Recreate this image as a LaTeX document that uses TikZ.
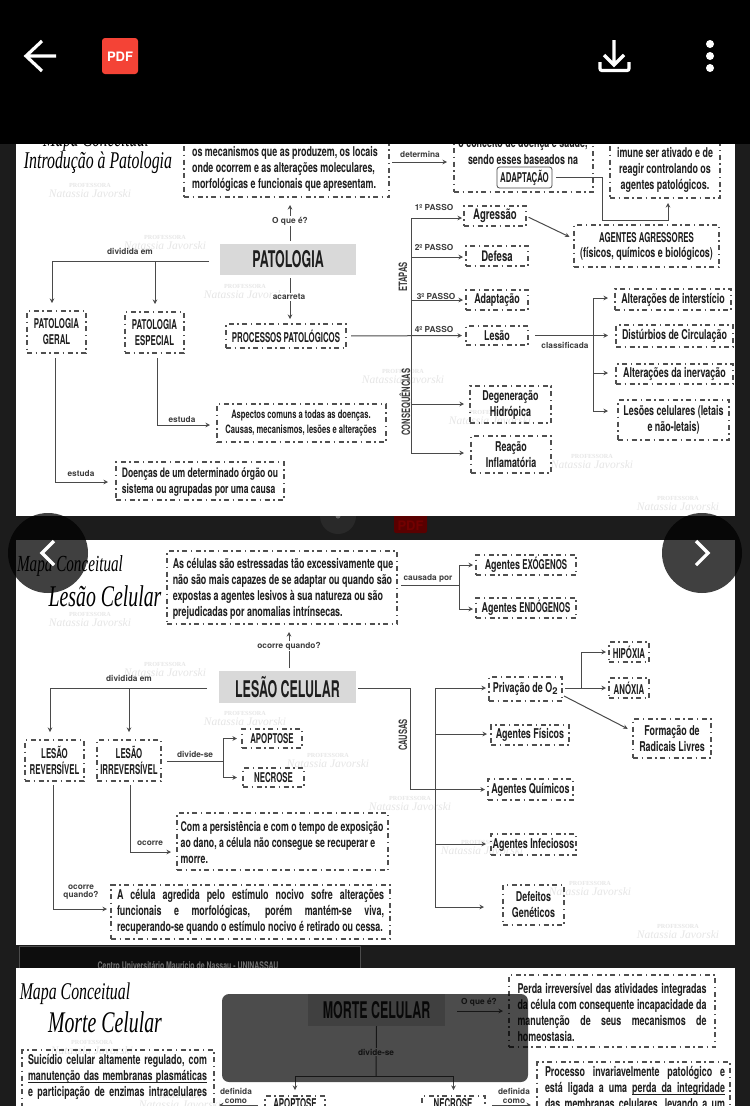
\documentclass[tikz,border=0pt]{standalone}
\usepackage{fontspec}
\usetikzlibrary{arrows.meta,calc}
\setmainfont{TeX Gyre Heros}
\newfontfamily\nar{TeX Gyre Heros}[FakeStretch=0.66]
\newfontfamily\nc{TeX Gyre Heros}[FakeStretch=0.58]
\newfontfamily\nn{TeX Gyre Heros}[FakeStretch=0.54]
\newfontfamily\scr{Liberation Serif}[FakeStretch=0.66]
\newfontfamily\wmf{Liberation Serif}
\definecolor{ink}{HTML}{1E1E1E}
\definecolor{lin}{HTML}{4A4A4A}
\definecolor{boxl}{HTML}{505050}
\definecolor{lab}{HTML}{3C3C3C}
\definecolor{mark}{HTML}{E6E6E6}
\definecolor{pdfred}{HTML}{F44336}
\tikzset{
 x=1pt,y=-1pt,
 dbox/.style={draw=boxl,line width=1.2pt,dash pattern=on 5pt off 3.5pt on 1.5pt off 3.5pt,inner sep=0pt,outer sep=0pt,align=center,text=ink,font=\nar\bfseries\fontsize{13.5}{16}\selectfont},
 body/.style={inner sep=0pt,outer sep=0pt,text=ink,font=\nar\bfseries\fontsize{13.5}{16}\selectfont},
 small/.style={body,font=\nar\bfseries\fontsize{11.5}{14.5}\selectfont},
 lbl/.style={inner sep=1pt,text=lab,font=\bfseries\fontsize{8.3}{8.6}\selectfont,align=center},
 lblw/.style={lbl,fill=white},
 lblv/.style={lbl,rotate=90,font=\nar\bfseries\fontsize{11.5}{12}\selectfont},
 head/.style={fill=black!15,inner sep=0pt,outer sep=0pt,text=ink,font=\nn\bfseries\fontsize{23}{24}\selectfont},
 cn/.style={draw=lin,line width=1pt},
 arr/.style={cn,-{Stealth[length=4.5pt,width=4.5pt]}},
 ttl/.style={inner sep=0pt,text=black,font=\scr\itshape\fontsize{24}{26}\selectfont},
 ttls/.style={inner sep=0pt,text=black,font=\scr\itshape\fontsize{23}{24}\selectfont},
}
\newcommand{\dbox}[6]{\node[dbox,minimum width={(#4-#2)*1pt},minimum height={(#5-#3)*1pt}] (#1) at ({(#2+#4)/2},{(#3+#5)/2}) {#6};}
\newcommand{\wm}[3]{\node[inner sep=0pt,text=mark,font=\wmf\bfseries\fontsize{6.2}{7}\selectfont] (#1p) at (#2,#3-4) {PROFESSORA};
 \node[inner sep=0pt,text=mark,font=\wmf\itshape\fontsize{11.5}{14}\selectfont] (#1n) at (#2,#3+5) {Natassia Javorski};}
\newcommand{\js}[2]{\makebox[#1pt][s]{#2}}
\newcommand{\ulr}[2]{\rlap{\hspace{#1pt}\rule[-2.4pt]{#2pt}{0.9pt}}}
\begin{document}
\begin{tikzpicture}
\useasboundingbox (0,0) rectangle (750,1106);
\clip (0,0) rectangle (750,1106);
\fill[black!89] (0,0) rectangle (750,1106);
% artefacts of the pages behind
\fill[black!84] (338,516) circle (18);
\fill[black!60] (338,516) circle (2.5);
\fill[red!35!black,rounded corners=2pt] (394,505) rectangle (427,533);
\node[inner sep=0pt,text=red!45!black,font=\bfseries\fontsize{13}{13}\selectfont] (bgpdf) at (410.5,526) {PDF};
\fill[black!95] (19,946) rectangle (360,968);
\draw[black!70,line width=0.8pt] (19,968) -- (19,946) -- (360,946) -- (360,968);
\node[inner sep=0pt,text=black!55,font=\nar\bfseries\fontsize{10.5}{10}\selectfont] (bgfoot) at (188,966) {Centro Universitário Maurício de Nassau - UNINASSAU};
% pages
\fill[white] (16,130) rectangle (735,516);
\fill[white] (16,540) rectangle (735,945);
\fill[white] (16,968) rectangle (735,1106);
% watermarks
\wm{wa}{90}{189}\wm{wb}{165}{241}\wm{wc}{245}{290}\wm{wd}{403}{375}\wm{we}{490}{416}\wm{wf}{592}{460}\wm{wg}{678}{502}
\wm{wh}{90}{618}\wm{wi}{165}{668}\wm{wj}{245}{717}\wm{wk}{328}{759}\wm{wl}{410}{802}\wm{wm}{482}{846}\wm{wn}{590}{887}\wm{wo}{678}{930}
\wm{wp}{92}{1046}\wm{wq}{180}{1100}
% ---------- panel 1
\node[ttls] (t1a) at (96,141) {Mapa Conceitual};
\node[ttl] (t1b) at (98,163) {Introdução à Patologia};
\dbox{defp}{184}{120}{389}{197}{}
\node[body,align=left] (defptxt) at (285,169) {os mecanismos que as produzem, os locais\\onde ocorrem e as alterações moleculares,\\morfológicas e funcionais que apresentam.};
\dbox{conc}{454}{120}{593}{192}{}
\node[body] (conca) at (523,144) {o conceito de doença e saúde,};
\node[body] (concb) at (523,160) {sendo esses baseados na};
\node[draw=lin,line width=0.8pt,rounded corners=2.5pt,inner sep=0pt,minimum width=55pt,minimum height=21pt,text=ink,font=\nc\bfseries\fontsize{13.5}{16}\selectfont] (adap) at (524.5,177.5) {ADAPTAÇÃO};
\dbox{imun}{610}{120}{720}{198}{}
\node[body,align=center] (imunt) at (665,170) {imune ser ativado e de\\reagir controlando os\\agentes patológicos.};
\node[head,minimum width=136pt,minimum height=31pt] (pat) at (288,259.5) {PATOLOGIA};
\dbox{agr}{574}{225}{719}{267}{{\nc AGENTES AGRESSORES}\\[-1pt](físicos, químicos e biológicos)}
\dbox{pag}{27}{311}{86}{353}{\nc PATOLOGIA\\\nc GERAL}
\dbox{pes}{125}{312}{184}{353}{\nc PATOLOGIA\\\nc ESPECIAL}
\dbox{proc}{226}{324}{346}{348}{\nc PROCESSOS PATOLÓGICOS}
\dbox{agre}{464}{206}{526}{226}{\fontsize{14.5}{16}\selectfont Agressão}
\dbox{defe}{466}{246}{528}{266}{\fontsize{14.5}{16}\selectfont Defesa}
\dbox{adpt}{466}{290}{528}{310}{Adaptação}
\dbox{lesa}{466}{326}{528}{345}{Lesão}
\dbox{dege}{470}{386}{551}{423}{Degeneração\\Hidrópica}
\dbox{reac}{471}{436}{551}{473}{Reação\\Inflamatória}
\dbox{alti}{615}{289}{731}{310}{Alterações de interstício}
\dbox{dist}{616}{325}{733}{347}{Distúrbios de Circulação}
\dbox{altn}{616}{364}{733}{384}{Alterações da inervação}
\dbox{lcel}{618}{400}{729}{440}{Lesões celulares (letais\\e não-letais)}
\dbox{doen}{116}{462}{284}{500}{}
\node[body,align=left,font=\nar\bfseries\fontsize{13}{16}\selectfont] (doent) at (200,482) {Doenças de um determinado órgão ou\\sistema ou agrupadas por uma causa};
\dbox{aspe}{217}{404}{386}{442}{}
\node[small,align=center] (aspet) at (301,423) {Aspectos comuns a todas as doenças.\\Causas, mecanismos, lesões e alterações};
% connectors panel 1
\coordinate (detj) at (392,162);
\draw[arr,shorten <=3pt,shorten >=7pt] (defp.east |- detj) -- (conc.west |- detj);
\node[lbl] (detm) at (420,154) {determina};
\coordinate (adj) at (602,220);
\coordinate (adk) at (668,220);
\draw[arr,shorten <=4pt,shorten >=5pt] (adap.east) -- (adj |- adap.east) -- (adj) -- (adk) -- (adk |- imun.south);
\draw[arr,shorten <=3pt,shorten >=5pt] (agre.east) -- ($(agr.west)+(0,-7)$);
\coordinate (qa) at (290,221);
\draw[arr,shorten <=3pt,shorten >=8pt] (pat.north -| qa) -- (qa |- defp.south);
\node[lblw] (oque1) at (qa) {O que é?};
\coordinate (dvj) at (209,261);
\coordinate (dva) at (52,261);
\coordinate (dvb) at (155,261);
\draw[cn] (dvj) -- (dva);
\draw[arr,shorten >=8pt] (dva) -- (dva |- pag.north);
\draw[arr,shorten >=8pt] (dvb) -- (dvb |- pes.north);
\node[lbl] (dvl) at (130,251) {dividida em};
\draw[arr,shorten <=3pt,shorten >=5pt] (pat.south -| qa) -- (qa |- proc.north);
\node[lblw] (acar) at (289,297) {acarreta};
\draw[arr,shorten <=5pt,shorten >=4pt] (proc.east) -- (lesa.west);
\coordinate (sa) at (411,218);
\coordinate (sb) at (411,453);
\draw[cn] (sa) -- (sb);
\draw[arr,shorten >=2pt] (sa) -- (sa -| agre.west);
\coordinate (sc) at (411,257);
\coordinate (sd) at (411,300);
\coordinate (se) at (411,404);
\draw[arr,shorten >=3pt] (sc) -- (sc -| defe.west);
\draw[arr,shorten >=3pt] (sd) -- (sd -| adpt.west);
\draw[arr,shorten >=6pt] (se) -- (se -| dege.west);
\draw[arr,shorten >=7pt] (sb) -- (sb -| reac.west);
\node[lbl] (p1) at (434,207) {1º PASSO};
\node[lbl] (p2) at (434,247) {2º PASSO};
\node[lbl] (p3) at (436,296) {3º PASSO};
\node[lbl] (p4) at (434,329) {4º PASSO};
\node[lblv] (etap) at (403,277) {ETAPAS};
\node[lblv] (cons) at (405,402) {CONSEQUÊNCIAS};
\coordinate (ca) at (593,298);
\coordinate (cb) at (593,411);
\coordinate (cc) at (593,373);
\draw[cn] (ca) -- (cb);
\draw[arr,shorten <=7pt,shorten >=8pt] (lesa.east) -- (lesa.east -| dist.west);
\draw[arr,shorten >=7pt] (ca) -- (ca -| alti.west);
\draw[arr,shorten >=8pt] (cc) -- (cc -| altn.west);
\draw[arr,shorten >=10pt] (cb) -- (cb -| lcel.west);
\node[lbl] (clas) at (565,345) {classificada};
\coordinate (ga) at (55,482);
\draw[arr,shorten <=5pt,shorten >=8pt] (ga |- pag.south) -- (ga) -- (doen.west |- ga);
\node[lbl] (est1) at (81,474) {estuda};
\coordinate (gb) at (157,425);
\draw[arr,shorten <=5pt,shorten >=7pt] (gb |- pes.south) -- (gb) -- (aspe.west |- gb);
\node[lbl] (est2) at (182,420) {estuda};
% ---------- panel 2
\node[ttls] (t2a) at (70,566) {Mapa Conceitual};
\node[ttl,font=\scr\itshape\fontsize{30}{32}\selectfont] (t2b) at (105,596) {Lesão Celular};
\dbox{cel}{167}{551}{397}{624}{}
\node[body,align=left] (celt) at (283,588.5) {As células são estressadas tão excessivamente que\\não são mais capazes de se adaptar ou quando são\\expostas a agentes lesivos à sua natureza ou são\\prejudicadas por anomalias intrínsecas.};
\dbox{exo}{476}{555}{576}{575}{Agentes {\nc EXÓGENOS}}
\dbox{endo}{476}{598}{576}{618}{Agentes {\nc ENDÓGENOS}}
\node[head,minimum width=137pt,minimum height=32pt] (les) at (287.5,687) {LESÃO CELULAR};
\dbox{priv}{489}{677}{562}{701}{Privação de O$_{\mathbf 2}$}
\dbox{fisi}{491}{725}{569}{745}{Agentes Físicos}
\dbox{quim}{488}{779}{573}{800}{Agentes Químicos}
\dbox{infe}{491}{834}{576}{855}{Agentes Infeciosos}
\dbox{defg}{503}{885}{564}{925}{Defeitos\\Genéticos}
\dbox{hipo}{609}{642}{649}{662}{\nc HIPÓXIA}
\dbox{anox}{609}{678}{649}{698}{\nc ANÓXIA}
\dbox{radi}{633}{719}{711}{758}{Formação de\\Radicais Livres}
\dbox{lrev}{25}{740}{84}{781}{\nc LESÃO\\\nc REVERSÍVEL}
\dbox{lirr}{97}{740}{161}{781}{\nc LESÃO\\\nc IRREVERSÍVEL}
\dbox{apop}{242}{729}{302}{748}{\nc APOPTOSE}
\dbox{necr}{243}{768}{304}{787}{\nc NECROSE}
\dbox{pers}{177}{813}{388}{870}{}
\node[body,align=left,font=\nar\bfseries\fontsize{13.3}{16}\selectfont] (perst) at (282,843) {Com a persistência e com o tempo de exposição\\ao dano, a célula não consegue se recuperar e\\morre.};
\dbox{agrd}{111}{885}{390}{939}{}
\node[body,align=left] (agrdt) at (250.5,912) {\js{267}{A célula agredida pelo estímulo nocivo sofre alterações}\\\js{267}{funcionais e morfológicas, porém mantém-se viva,}\\recuperando-se quando o estímulo nocivo é retirado ou cessa.};
% connectors panel 2
\coordinate (ea) at (401,585);
\coordinate (eb) at (459,585);
\draw[cn] (cel.east |- ea) ++(4,0) -- (eb);
\draw[arr,shorten >=3pt] (eb) |- (exo.west);
\coordinate (endoj) at (476,609);
\draw[arr,shorten >=3pt] (eb) |- (endoj);
\node[lbl] (caus) at (428,578) {causada por};
\coordinate (oqa) at (289,646);
\draw[arr,shorten <=3pt,shorten >=8pt] (les.north -| oqa) -- (oqa |- cel.south);
\node[lblw] (ocq) at (oqa) {ocorre quando?};
\coordinate (la) at (207,688);
\coordinate (lb) at (50,688);
\coordinate (lc) at (129,688);
\draw[cn] (la) -- (lb);
\draw[arr,shorten >=8pt] (lb) -- (lb |- lrev.north);
\draw[arr,shorten >=8pt] (lc) -- (lc |- lirr.north);
\node[lbl] (dvl2) at (129,678) {dividida em};
\coordinate (ma) at (410,688);
\draw[arr,shorten <=2pt,shorten >=3pt] (les.east |- ma) -- (ma) -- (ma |- quim.west) -- (quim.west);
\node[lblv] (caus2) at (403,735) {CAUSAS};
\coordinate (na) at (435,688);
\coordinate (nb) at (435,907);
\coordinate (nc) at (435,734);
\coordinate (nd) at (435,844);
\draw[cn] (na) -- (nb);
\draw[arr,shorten >=3pt] (na) -- (na -| priv.west);
\draw[arr,shorten >=4pt] (nc) -- (nc -| fisi.west);
\draw[arr,shorten >=5pt] (nd) -- (nd -| infe.west);
\draw[arr,shorten >=19pt] (nb) -- (nb -| defg.west);
\coordinate (oa) at (581,688);
\draw[arr,shorten <=3pt,shorten >=3pt] (priv.east |- oa) -- (anox.west |- oa);
\draw[arr,shorten >=3pt] (oa) |- (hipo.west);
\coordinate (ob) at (564,696);
\draw[arr,shorten >=6pt] (ob) -- ($(radi.west)+(0,-7)$);
\coordinate (pa) at (167,761);
\coordinate (pb) at (223,761);
\draw[cn] (pa) -- (pb);
\draw[arr,shorten >=5pt] (pb) |- (apop.west);
\draw[arr,shorten >=6pt] (pb) |- (necr.west);
\node[lbl] (dvs) at (195,754) {divide-se};
\coordinate (qaa) at (130,852);
\draw[arr,shorten <=4pt,shorten >=6pt] (qaa |- lirr.south) -- (qaa) -- (pers.west |- qaa);
\node[lbl] (oc1) at (150,843) {ocorre};
\coordinate (qab) at (53,909);
\draw[arr,shorten <=4pt,shorten >=4pt] (qab |- lrev.south) -- (qab) -- (agrd.west |- qab);
\node[lbl] (oc2) at (81,892) {ocorre\\quando?};
% ---------- panel 3
\node[ttl] (t3a) at (75,994) {Mapa Conceitual};
\node[ttl,font=\scr\itshape\fontsize{30}{32}\selectfont] (t3b) at (105,1022) {Morte Celular};
\dbox{suic}{22}{1050}{214}{1140}{}
\node[body,align=left,anchor=north west] (suict) at (28,1054) {\js{179}{Suicídio celular altamente regulado, com}\\\js{179}{\ulr{0}{179}manutenção das membranas plasmáticas}\\\js{179}{e participação de enzimas intracelulares}};
\dbox{perd}{509}{975}{715}{1047}{}
\node[body,align=left] (perdt) at (612,1012) {\js{189}{Perda irreversível das atividades integradas}\\\js{189}{da célula com consequente incapacidade da}\\\js{189}{manutenção de seus mecanismos de}\\homeostasia.};
\dbox{proc2}{537}{1062}{730}{1150}{}
\node[body,align=left,anchor=north west] (proct) at (545,1066) {\js{180}{Processo invariavelmente patológico e}\\\js{180}{\ulr{87}{93}está ligada a uma perda da integridade}\\\js{180}{das membranas celulares, levando a um}};
\node[head,minimum width=137pt,minimum height=32pt] (mor) at (376.5,1010) {MORTE CELULAR};
\dbox{apo3}{265}{1096}{325}{1130}{}
\node[body] (apo3t) at (295,1104) {\nc APOPTOSE};
\dbox{nec3}{422}{1096}{485}{1130}{}
\node[body] (nec3t) at (453,1104) {\nc NECROSE};
\coordinate (ra) at (376,1076);
\draw[cn] (mor.south) -- (ra);
\node[lblw] (dvs3) at (376,1052) {divide-se};
\draw[arr,shorten >=6pt] (ra) -| (apo3.north);
\draw[arr,shorten >=6pt] (ra) -| (nec3.north);
\coordinate (sua) at (258,1105);
\draw[arr,shorten >=5pt] (sua) -- (suic.east |- sua);
\node[lbl] (dfa) at (236,1096) {definida\\como};
\coordinate (sub) at (492,1105);
\draw[arr,shorten >=6pt] (sub) -- (proc2.west |- sub);
\node[lbl] (dfb) at (514,1096) {definida\\como};
\coordinate (suc) at (457,1011);
\draw[arr,shorten >=6pt] (suc) -- (perd.west |- suc);
\node[lbl] (oq3) at (479,1002) {O que é?};
% modal overlay on panel 3
\fill[black,opacity=.7,rounded corners=7pt] (222,994) rectangle (528,1082);
% ---------- phone chrome
\fill[black] (0,0) rectangle (750,144);
\draw[white,line width=3.2pt] (42,41) -- (26,56) -- (42,71) (26,56) -- (56,56);
\fill[pdfred,rounded corners=3pt] (102,38) rectangle (138,74);
\node[inner sep=0pt,text=white,font=\bfseries\fontsize{13}{13}\selectfont] (pdfic) at (120,56.5) {PDF};
\draw[white,line width=3.2pt] (614,40) -- (614,64) (604,55) -- (614,65) -- (624,55);
\draw[white,line width=3.2pt,rounded corners=2pt] (600,62) -- (600,70.5) -- (629,70.5) -- (629,62);
\fill[white] (710,44) circle (4) (710,56) circle (4) (710,68) circle (4);
\fill[black,opacity=.75] (48,553) circle (40);
\fill[black,opacity=.75] (702,553) circle (40);
\draw[white,line width=3.2pt] (54,541) -- (42,553) -- (54,565);
\draw[white,line width=3.2pt] (696,541) -- (708,553) -- (696,565);
\end{tikzpicture}
\end{document}
